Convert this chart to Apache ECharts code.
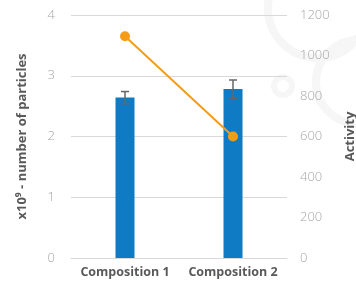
<!DOCTYPE html>
<html>
<head>
<meta charset="utf-8">
<script src="https://cdn.jsdelivr.net/npm/echarts@6/dist/echarts.min.js"></script>
<style>
  html, body { margin: 0; padding: 0; background: #fff; }
  #chart { width: 356px; height: 281px; }
</style>
</head>
<body>
<div id="chart"></div>
<script>
// data
var categories = ["Composition 1", "Composition 2"];
var particles = [2.64, 2.78];
var particlesErr = [0.10, 0.15];
var activity = [1095, 600];
var leftTicks = [0, 4, 1];
var rightTicks = [0, 1200, 200];

var chart = echarts.init(document.getElementById("chart"));

// error bar items (low, high)
var errData = particles.map(function (v, i) {
    return [i, v - particlesErr[i], v + particlesErr[i]];
});

var tickFont = { color: "#a6a6a6", fontSize: 13, fontFamily: "Open Sans", fontWeight: 300 };
var nameFont = { color: "#595959", fontSize: 13, fontWeight: "bold", fontFamily: "Open Sans" };

var option = {
    animation: false,
    grid: { left: 71, right: 69, top: 15, bottom: 23, containLabel: false, outerBoundsMode: "none" },
    graphic: [
        // faint watermark rings, top right
        { type: "circle", z: -10, shape: { cx: 318, cy: 8, r: 50 }, style: { fill: "none", stroke: "#f6f6f6", lineWidth: 8 } },
        { type: "circle", z: -10, shape: { cx: 358, cy: 82, r: 42 }, style: { fill: "none", stroke: "#f6f6f6", lineWidth: 8 } },
        { type: "circle", z: -10, shape: { cx: 283, cy: 86, r: 9 }, style: { fill: "none", stroke: "#f6f6f6", lineWidth: 6 } }
    ],
    xAxis: {
        type: "category",
        data: categories,
        axisLine: { lineStyle: { color: "#d9d9d9" } },
        axisTick: { show: false },
        axisLabel: { color: "#595959", fontSize: 12.5, fontWeight: "bold", fontFamily: "Open Sans", margin: 8, interval: 0 }
    },
    yAxis: [{
        type: "value",
        min: leftTicks[0], max: leftTicks[1], interval: leftTicks[2],
        name: "x10\u2079 - number of particles",
        nameLocation: "middle",
        nameGap: 42,
        nameTextStyle: nameFont,
        axisLabel: Object.assign({ margin: 16 }, tickFont),
        splitLine: { lineStyle: { color: "#d9d9d9" } },
        axisLine: { show: false },
        axisTick: { show: false }
    }, {
        type: "value",
        min: rightTicks[0], max: rightTicks[1], interval: rightTicks[2],
        name: "Activity",
        nameLocation: "middle",
        nameGap: 57,
        nameTextStyle: nameFont,
        axisLabel: Object.assign({ margin: 13, align: "left", formatter: function (v) { return String(v); } }, tickFont),
        splitLine: { show: false },
        axisLine: { show: false },
        axisTick: { show: false }
    }],
    series: [{
        type: "bar",
        yAxisIndex: 0,
        data: particles,
        barWidth: 19,
        itemStyle: { color: "#0f7bc4" }
    }, {
        type: "custom",
        yAxisIndex: 0,
        data: errData,
        z: 5,
        renderItem: function (params, api) {
            var x = api.value(0);
            var lo = api.coord([x, api.value(1)]);
            var hi = api.coord([x, api.value(2)]);
            var w = 4;
            var st = { stroke: "#666666", lineWidth: 1.5 };
            return {
                type: "group",
                children: [
                    { type: "line", shape: { x1: lo[0], y1: lo[1], x2: hi[0], y2: hi[1] }, style: st },
                    { type: "line", shape: { x1: lo[0] - w, y1: lo[1], x2: lo[0] + w, y2: lo[1] }, style: st },
                    { type: "line", shape: { x1: hi[0] - w, y1: hi[1], x2: hi[0] + w, y2: hi[1] }, style: st }
                ]
            };
        }
    }, {
        type: "line",
        yAxisIndex: 1,
        data: activity,
        z: 10,
        symbol: "circle",
        symbolSize: 10,
        lineStyle: { color: "#f59c17", width: 2 },
        itemStyle: { color: "#f59c17" }
    }]
};

chart.setOption(option);
</script>
</body>
</html>
